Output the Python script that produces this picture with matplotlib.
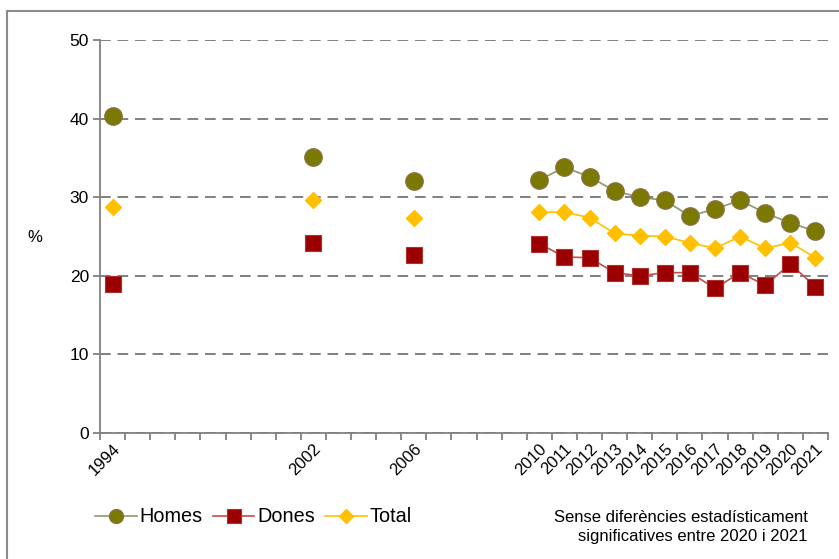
import numpy as np
import matplotlib
matplotlib.use("Agg")
import matplotlib.pyplot as plt
from matplotlib.patches import Rectangle

plt.rcParams['font.family'] = ['Liberation Sans', 'DejaVu Sans']

# category axis with empty slots between the early survey years
categories = (['1994'] + [''] * 7 + ['2002'] + [''] * 3 + ['2006'] + [''] * 4 +
              [str(y) for y in range(2010, 2022)])
n = np.nan
homes = ([40.3] + [n] * 7 + [35.1] + [n] * 3 + [32.1] + [n] * 4 +
         [32.2, 33.8, 32.6, 30.8, 30.0, 29.6, 27.6, 28.5, 29.6, 28.0, 26.7, 25.7])
dones = ([19.0] + [n] * 7 + [24.2] + [n] * 3 + [22.7] + [n] * 4 +
         [24.1, 22.4, 22.3, 20.4, 20.0, 20.4, 20.4, 18.4, 20.4, 18.8, 21.5, 18.6])
total = ([28.8] + [n] * 7 + [29.6] + [n] * 3 + [27.4] + [n] * 4 +
         [28.1, 28.1, 27.4, 25.4, 25.1, 25.0, 24.2, 23.5, 25.0, 23.5, 24.2, 22.3])

fig = plt.figure(figsize=(8.39, 5.59), dpi=100)
ax = fig.add_axes([100/839, 1 - 433/559, 728/839, 393/559])

x = np.arange(len(categories))
ax.plot(x, homes, color='#8a9a6a', lw=1.2, marker='o', ms=12.5,
        mfc='#7a7a00', mec='#8a7040', mew=1, label='Homes', zorder=3)
ax.plot(x, dones, color='#c0504d', lw=1.2, marker='s', ms=12,
        mfc='#9b0000', mec='#b03030', mew=0.8, label='Dones', zorder=3)
ax.plot(x, total, color='#ffc000', lw=1.2, marker='D', ms=8.5,
        mfc='#ffc000', mec='#ffc000', label='Total', zorder=4)

ax.set_xlim(-0.5, len(categories) - 0.5)
ax.set_ylim(0, 50)
ax.set_yticks(range(0, 51, 10))
ax.yaxis.grid(True, color='#808080', ls=(0, (5.5, 3.5)), lw=1.4)
ax.set_axisbelow(True)

ax.set_xticks(x)
ax.set_xticklabels(categories, rotation=45, ha='right', va='top',
                   rotation_mode='anchor', fontsize=12)
ax.set_xticks(np.arange(-0.5, len(categories)), minor=True)
ax.tick_params(axis='x', which='major', length=0, pad=6)
ax.tick_params(axis='x', which='minor', length=5, color='#808080', width=1.3)
ax.tick_params(axis='y', length=5, color='#808080', width=1.3, labelsize=12.5, pad=3)

for s in ['top', 'right']:
    ax.spines[s].set_visible(False)
for s in ['left', 'bottom']:
    ax.spines[s].set_color('#808080')
    ax.spines[s].set_linewidth(1.3)

fig.text(35/839, 1 - 237/559, '%', fontsize=12, ha='center', va='center')

leg = fig.legend(loc='center left', bbox_to_anchor=(87/839, 1 - 517/559), ncol=3,
                 frameon=False, fontsize=14.3, handlelength=2.1, handletextpad=0.15,
                 columnspacing=0.5, borderaxespad=0, markerscale=0.8)

fig.text(808/839, 1 - 517/559, 'Sense diferències estadísticament',
         fontsize=12, ha='right', va='center')
fig.text(808/839, 1 - 537/559, 'significatives entre 2020 i 2021',
         fontsize=12, ha='right', va='center')

# outer chart frame
fig.patches.append(Rectangle((7/839, -0.1), 1.2, 1 - 11/559 + 0.1,
                             transform=fig.transFigure, fill=False,
                             ec='#8c8c8c', lw=1.5, zorder=0))

fig.savefig('out.png', dpi=100)
